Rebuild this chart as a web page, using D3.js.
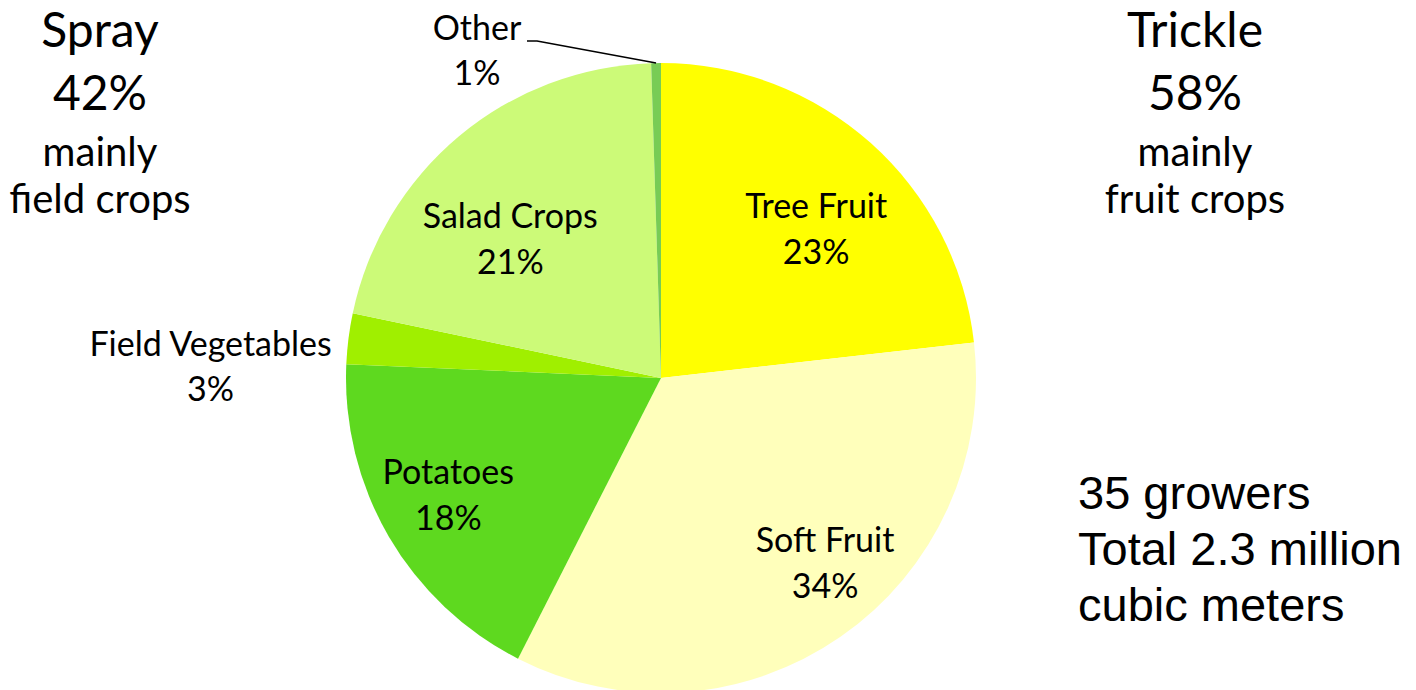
<!DOCTYPE html>
<html>
<head>
<meta charset="utf-8">
<script src="https://cdn.jsdelivr.net/npm/d3@7"></script>
<style>
  body { margin: 0; background: #fff; }
  svg { display: block; }
</style>
</head>
<body>
<svg id="chart"></svg>
<script>
// data
const categories = ["Tree Fruit", "Soft Fruit", "Potatoes", "Field Vegetables", "Salad Crops", "Other"]
const shares = [23.2, 34.3, 18.2, 2.6, 21.2, 0.5]
const groups = ["Spray", "Trickle"]
const groupShares = [42, 58]
const groupNotes = [["mainly", "field crops"], ["mainly", "fruit crops"]]
const footNotes = ["35 growers", "Total 2.3 million", "cubic meters"]

const colors = ["#FFFF00", "#FFFFBB", "#5ED91F", "#A0EF00", "#CCFA78", "#78CC55"]

const width = 1416, height = 690
const cx = 661, cy = 378, radius = 315

// how far each label sits from the centroid of its slice (Excel best-fit look)
const labelNudge = {
    "Tree Fruit": [2, 34],
    "Soft Fruit": [33, 7],
    "Potatoes": [-14, 12],
    "Salad Crops": [-3, 48]
}

const svg = d3.select("#chart")
    .attr("width", width)
    .attr("height", height)

const pie = d3.pie().sort(null).value(d => d.value)
const slices = pie(categories.map((c, i) => ({name: c, value: shares[i], color: colors[i]})))

const arcGen = d3.arc().innerRadius(0).outerRadius(radius)
const labelArc = d3.arc().innerRadius(230).outerRadius(230)

const g = svg.append("g").attr("transform", `translate(${cx}, ${cy})`)

g.selectAll("path.slice")
    .data(slices)
    .enter()
    .append("path")
    .attr("class", "slice")
    .attr("d", arcGen)
    .attr("fill", d => d.data.color)

const pct = v => Math.round(v) + "%"
const labelFont = "Lato, 'Open Sans', sans-serif"

// inside labels
const inside = slices.filter(d => labelNudge[d.data.name])
const insideLabels = g.selectAll("text.inside")
    .data(inside)
    .enter()
    .append("text")
    .attr("class", "inside")
    .attr("font-family", labelFont)
    .attr("font-size", 34)
    .attr("text-anchor", "middle")
    .attr("transform", d => {
        const c = labelArc.centroid(d), n = labelNudge[d.data.name]
        return `translate(${c[0] + n[0]}, ${c[1] + n[1]})`
    })
insideLabels.append("tspan").attr("x", 0).attr("y", -22).text(d => d.data.name)
insideLabels.append("tspan").attr("x", 0).attr("y", 24).text(d => pct(d.data.value))

// Field Vegetables sits outside, to the left of its slice
const fv = slices[3]
const fvAngle = (fv.startAngle + fv.endAngle) / 2
const fvText = g.append("text")
    .attr("font-family", labelFont)
    .attr("font-size", 34)
    .attr("text-anchor", "middle")
    .attr("transform", `translate(${Math.sin(fvAngle) * (radius + 139)}, ${-Math.cos(fvAngle) * (radius + 139) + 57})`)
fvText.append("tspan").attr("x", 0).attr("y", -22).text(fv.data.name)
fvText.append("tspan").attr("x", 0).attr("y", 23).text(pct(fv.data.value))

// Other with a leader line
const ot = slices[5]
const otAngle = (ot.startAngle + ot.endAngle) / 2
const otEdge = [Math.sin(otAngle) * radius, -Math.cos(otAngle) * radius]
const otLabel = [477 - cx, 40 - cy]
g.append("polyline")
    .attr("points", [[otLabel[0] + 50, otLabel[1] + 1], [otLabel[0] + 60, otLabel[1] + 1], otEdge].map(p => p.join(",")).join(" "))
    .attr("fill", "none")
    .attr("stroke", "#000")
    .attr("stroke-width", 1.5)
const otText = g.append("text")
    .attr("font-family", labelFont)
    .attr("font-size", 34)
    .attr("text-anchor", "middle")
    .attr("transform", `translate(${otLabel[0]}, ${otLabel[1]})`)
otText.append("tspan").attr("x", 0).attr("y", 0).text(ot.data.name)
otText.append("tspan").attr("x", 0).attr("y", 45).text(pct(ot.data.value))

// Spray / Trickle headings
const groupX = [100, 1195]
groups.forEach((name, i) => {
    const t = svg.append("text")
        .attr("font-family", labelFont)
        .attr("text-anchor", "middle")
        .attr("fill", "#000")
    t.append("tspan").attr("x", groupX[i]).attr("y", 47).attr("font-size", 48).text(name)
    t.append("tspan").attr("x", groupX[i]).attr("y", 110).attr("font-size", 48).text(groupShares[i] + "%")
    groupNotes[i].forEach((line, j) => {
        t.append("tspan").attr("x", groupX[i]).attr("y", 166 + j * 47).attr("font-size", 40).text(line)
    })
})

// grower totals
svg.append("text")
    .attr("font-family", "'Liberation Sans', Arial, sans-serif")
    .attr("font-size", 47)
    .selectAll("tspan")
    .data(footNotes)
    .enter()
    .append("tspan")
    .attr("x", 1078)
    .attr("y", (d, i) => 509 + i * 56)
    .text(d => d)
</script>
</body>
</html>
